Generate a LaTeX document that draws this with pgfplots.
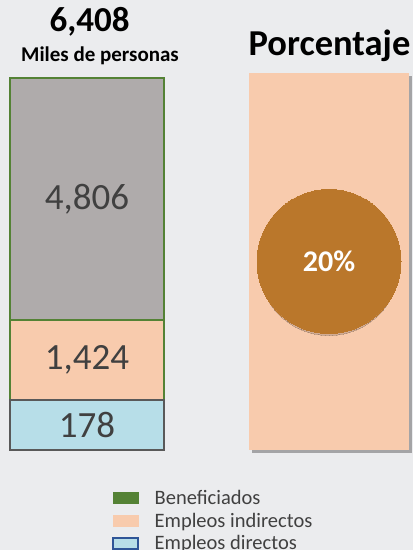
\documentclass[border=0pt]{standalone}
\usepackage{pgfplots}
\pgfplotsset{compat=1.18}
\usepackage{pgfplotstable}
\usepackage{fontspec}
\setmainfont{Carlito}
\usetikzlibrary{shadows}
\definecolor{bgc}{HTML}{EBECEE}
\definecolor{grayfill}{HTML}{AFABAB}
\definecolor{greenb}{HTML}{548235}
\definecolor{peach}{HTML}{F8CBAD}
\definecolor{lblue}{HTML}{B7DEE8}
\definecolor{dgray}{HTML}{595959}
\definecolor{blueb}{HTML}{2F5597}
\definecolor{circ}{HTML}{BA772B}
\definecolor{txt}{HTML}{404040}
\pgfplotstableread{
x h mid label
0 50 25 178
0 80 90 {1,424}
0 242 251 {4,806}
}\segtable
\begin{document}
\begin{tikzpicture}
\clip (0,0) rectangle (413bp,550bp);
\fill[bgc] (0,0) rectangle (413bp,550bp);
% titles
\node[anchor=base, inner sep=0pt, font=\fontsize{35bp}{40bp}\selectfont\bfseries] at (89.5bp,518bp) {6,408};
\node[anchor=base, inner sep=0pt, font=\fontsize{21bp}{24bp}\selectfont\bfseries] at (100bp,488bp) {Miles de personas};
\node[anchor=base, inner sep=0pt, font=\fontsize{36.5bp}{40bp}\selectfont\bfseries] at (329.5bp,494bp) {Porcentaje};
% stacked bar
\begin{axis}[
  at={(10bp,100bp)}, anchor=south west,
  scale only axis, width=154bp, height=372bp,
  xmin=-0.5, xmax=0.5, ymin=0, ymax=372,
  hide axis, clip=false,
  ybar stacked, bar width=154bp,
]
\addplot[fill=lblue, draw=dgray, line width=1.6bp] table[x=x, y=h, skip coords between index={1}{3}] {\segtable};
\addplot[fill=peach, draw=greenb, line width=1.6bp] table[x=x, y=h, skip coords between index={0}{1}, skip coords between index={2}{3}] {\segtable};
\addplot[fill=grayfill, draw=greenb, line width=1.6bp] table[x=x, y=h, skip coords between index={0}{2}] {\segtable};
\end{axis}
% labels and legend
\begin{axis}[
  at={(10bp,100bp)}, anchor=south west,
  scale only axis, width=154bp, height=372bp,
  xmin=-0.5, xmax=0.5, ymin=0, ymax=372,
  hide axis, clip=false,
  legend style={at={(0.662,-0.102)}, anchor=north west, draw=none, fill=none,
    font=\fontsize{20.5bp}{22bp}\selectfont\color{txt}, inner sep=0pt, row sep=3bp,
    /tikz/every odd column/.append style={column sep=14bp}},
  legend cell align=left,
  legend image code/.code={\draw[#1] (0bp,-5.5bp) rectangle (25bp,5.5bp);},
]
\addplot[forget plot, only marks, mark=none, nodes near coords, point meta=explicit symbolic,
  every node near coord/.append style={anchor=center, inner sep=0pt, text=txt, font=\fontsize{37bp}{40bp}\selectfont}]
  table[x=x, y=mid, meta=label] {\segtable};
\addlegendimage{fill=greenb, draw=greenb, line width=0.5bp}
\addlegendentry{Beneficiados}
\addlegendimage{fill=peach, draw=peach, line width=0.5bp}
\addlegendentry{Empleos indirectos}
\addlegendimage{fill=lblue, draw=blueb, line width=1.5bp}
\addlegendentry{Empleos directos}
\end{axis}
% percentage panel
\begin{axis}[
  at={(249bp,100bp)}, anchor=south west,
  scale only axis, width=160bp, height=377bp,
  xmin=-0.5, xmax=0.5, ymin=0, ymax=100,
  hide axis, clip=false,
]
\addplot[ybar, bar width=160bp, bar shift=0pt, fill=peach, draw=none,
  drop shadow={shadow xshift=3bp, shadow yshift=-3bp, fill=black, opacity=0.3}] coordinates {(0,100)};
\addplot[only marks, mark=*, mark size=70bp, mark options={fill=black, draw=black, line width=0pt, opacity=0.15, shift={(0bp,-4bp)}}] coordinates {(0,50)};
\addplot[only marks, mark=*, mark size=72bp, mark options={fill=circ, draw=circ, line width=0pt},
  nodes near coords, point meta=explicit symbolic,
  every node near coord/.append style={anchor=center, inner sep=0pt, text=white, font=\fontsize{30bp}{32bp}\selectfont\bfseries}]
  coordinates {(0,50) [20\%]};
\end{axis}
\end{tikzpicture}
\end{document}
